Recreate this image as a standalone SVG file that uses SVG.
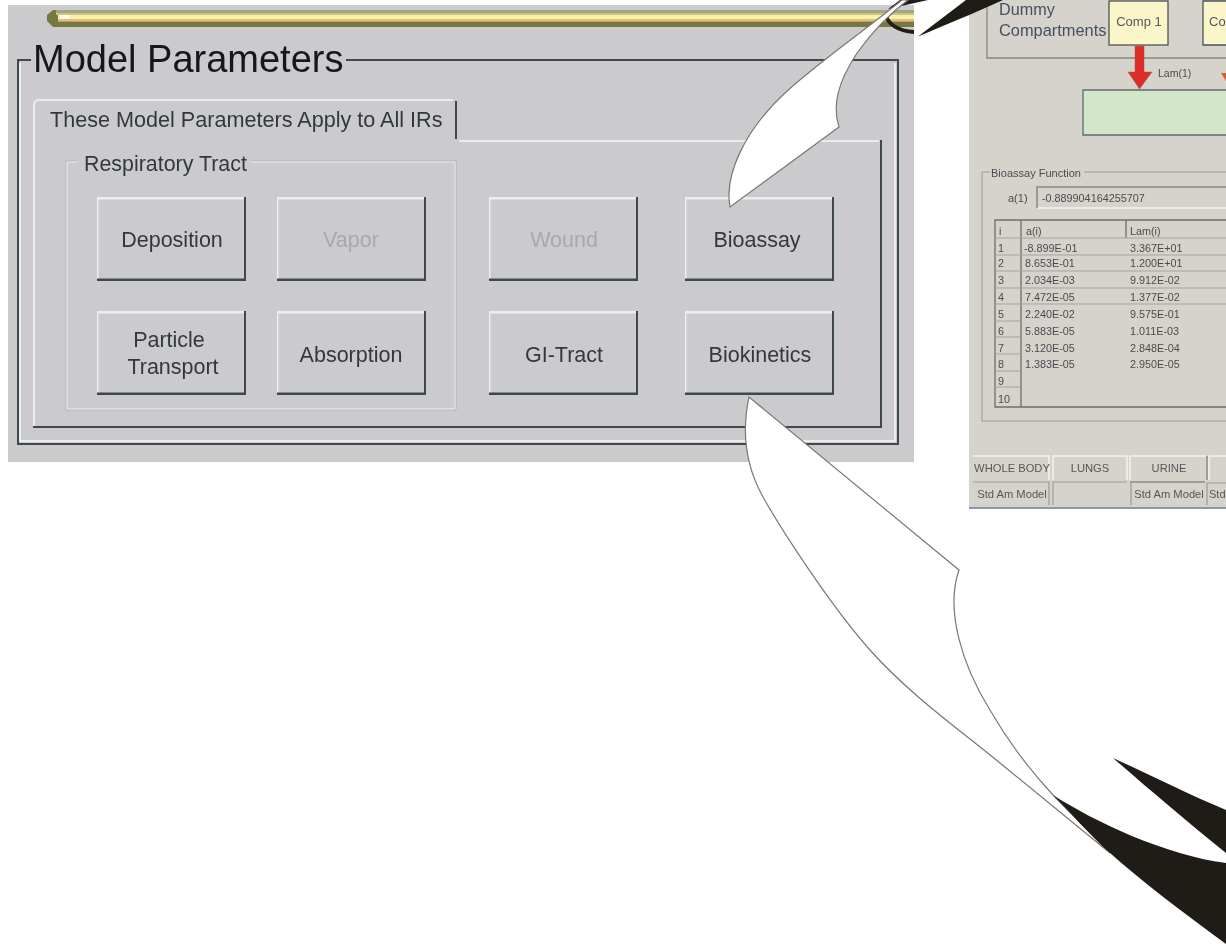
<svg xmlns="http://www.w3.org/2000/svg" width="1226" height="944" viewBox="0 0 1226 944">
<style>
text{font-family:"Liberation Sans",Arial,sans-serif}
.lb{font-size:21.5px;fill:#33393c;text-anchor:middle}
.off{fill:#a9a9ad}
.dk{fill:none;stroke:#3d484b;stroke-width:2}
.lt{fill:none;stroke:#ececee;stroke-width:2}
.hi{fill:none;stroke:#eeeef0;stroke-width:3}
.sd{fill:none;stroke:#3d484b;stroke-width:3}
.s{font-size:10.8px;fill:#4a4c50}
.tl{stroke:#a5a5a2;stroke-width:1;fill:none}
.tb{font-size:11.2px;fill:#55575a;text-anchor:middle}
.wh{fill:#fff;stroke:#777;stroke-width:1.2;stroke-linejoin:miter}
.bk{fill:#1f1b17}
</style>
<defs>
<g id="bevel">
<path class="hi" d="M0 84V1H149"/>
<path class="sd" d="M148.500 0V83H0"/>
</g>
<filter id="soft" x="0" y="0" width="100%" height="100%"><feGaussianBlur stdDeviation="0.45"/></filter>
<filter id="softer" x="0" y="0" width="100%" height="100%"><feGaussianBlur stdDeviation="0.65"/></filter>
</defs>
<rect width="1226" height="944" fill="#fff"/>

<g id="model-parameters-window" filter="url(#soft)">
<rect x="8" y="5" width="906" height="457" fill="#cbcbce"/>
<path d="M53 10H914V27H53L47 21V15Z" fill="#77773f"/>
<path d="M56 10H914V13H56Z" fill="#a5a582"/>
<path d="M56 13H914V15H56Z" fill="#c8c48a"/>
<path d="M58 15H914V19H58Z" fill="#f8f2a2"/>
<path d="M58 19H914V21H58Z" fill="#d6c388"/>
<path d="M58 21H914V22H58Z" fill="#d78f72"/>
<path d="M60 15H70V19H60Z" fill="#fdfbe4"/>
<path class="lt" d="M20 441V63M895 63V441H20"/>
<path class="dk" d="M31 60H18V444H898V60H346"/>
<text x="33" y="72" font-size="38" fill="#15191b">Model Parameters</text>
<path class="lt" d="M34 426V105Q34 100 39 100H453M459 141H879"/>
<path class="dk" d="M456 101V139M881 140V427H33"/>
<text x="50" y="127" font-size="21.6" fill="#33393c">These Model Parameters Apply to All IRs</text>
<path d="M78 161H66V410H456V161H250" fill="none" stroke="#b3b3b6" stroke-width="1"/>
<path d="M78 162H67V409H455V162H250" fill="none" stroke="#ececee" stroke-width="1"/>
<text x="84" y="171" font-size="21.4" fill="#33393c">Respiratory Tract</text>
</g>

<g id="btn-deposition" filter="url(#soft)"><use href="#bevel" transform="translate(97 197)"/><text class="lb" x="172" y="247">Deposition</text></g>
<g id="btn-vapor" filter="url(#soft)"><use href="#bevel" transform="translate(277 197)"/><text class="lb off" x="351" y="247">Vapor</text></g>
<g id="btn-wound" filter="url(#soft)"><use href="#bevel" transform="translate(489 197)"/><text class="lb off" x="564" y="247">Wound</text></g>
<g id="btn-bioassay" filter="url(#soft)"><use href="#bevel" transform="translate(685 197)"/><text class="lb" x="757" y="247">Bioassay</text></g>
<g id="btn-particle-transport" filter="url(#soft)"><use href="#bevel" transform="translate(97 311)"/><text class="lb" x="169" y="347">Particle</text><text class="lb" x="173" y="374">Transport</text></g>
<g id="btn-absorption" filter="url(#soft)"><use href="#bevel" transform="translate(277 311)"/><text class="lb" x="351" y="362">Absorption</text></g>
<g id="btn-gi-tract" filter="url(#soft)"><use href="#bevel" transform="translate(489 311)"/><text class="lb" x="564" y="362">GI-Tract</text></g>
<g id="btn-biokinetics" filter="url(#soft)"><use href="#bevel" transform="translate(685 311)"/><text class="lb" x="760" y="362">Biokinetics</text></g>

<g id="biokinetics-window" filter="url(#softer)">
<rect x="969" y="0" width="257" height="509" fill="#d6d2cc"/>
<path d="M969 508H1226" stroke="#8a97a5" stroke-width="2"/>
<path d="M987 0V58H1226" fill="none" stroke="#85858a" stroke-width="1.3"/>
<text x="999" y="15" font-size="16.2" fill="#46505f">Dummy</text>
<text x="999" y="36" font-size="16.4" fill="#46505f">Compartments</text>
<rect x="1109" y="1" width="59" height="44" fill="#fbf6c9" stroke="#4b5358" stroke-width="1.3"/>
<text x="1139" y="26" font-size="13" fill="#55575a" text-anchor="middle">Comp 1</text>
<path d="M1226 1H1203V45H1226" fill="#fbf6c9" stroke="#4b5358" stroke-width="1.3"/>
<text x="1209" y="26" font-size="13" fill="#55575a">Co</text>
<rect x="1083" y="90" width="143" height="45" fill="#d2e6c8"/>
<path d="M1226 90H1083V135H1226" fill="none" stroke="#5f6a6a" stroke-width="1.3"/>
<text x="1158" y="77" font-size="10.500" fill="#4a4c50">Lam(1)</text>
<path d="M1135 46H1144V72H1152L1139.500 89L1128 72H1135Z" fill="#dc2e28" stroke="#a85a48" stroke-width=".5"/>
<path d="M1221 73H1226V81Z" fill="#dc5a30"/>

<path d="M990 172H982V421H1226M1084 172H1226" fill="none" stroke="#9a9a9a" stroke-width="1"/>
<text x="991" y="177" font-size="11" fill="#4a4c50">Bioassay Function</text>
<text x="1008" y="202" font-size="11" fill="#4a4c50">a(1)</text>
<path d="M1037 208V187H1226" fill="none" stroke="#888" stroke-width="1.500"/>
<path d="M1038 208H1226" stroke="#f4f2ee" stroke-width="1.500"/>
<text x="1042" y="202" class="s" font-size="11">-0.889904164255707</text>

<g id="bioassay-table">
<path d="M1226 220H995V407H1226" fill="none" stroke="#6d6d6d" stroke-width="1.300"/>
<path d="M1021 220V407M1126 220V238" fill="none" stroke="#6d6d6d" stroke-width="1.300"/>
<path class="tl" d="M995 238H1226M995 255H1226M995 271H1226M995 288H1226M995 304H1226M995 321H1021M995 337H1021M995 354H1021M995 371H1021M995 387H1021"/>
<text class="s" x="999" y="235">i</text><text class="s" x="1026" y="235">a(i)</text><text class="s" x="1130" y="235">Lam(i)</text>
<text class="s" x="998" y="252">1</text><text class="s" x="1024" y="252">-8.899E-01</text><text class="s" x="1130" y="252">3.367E+01</text>
<text class="s" x="998" y="267">2</text><text class="s" x="1025" y="267">8.653E-01</text><text class="s" x="1130" y="267">1.200E+01</text>
<text class="s" x="998" y="284">3</text><text class="s" x="1025" y="284">2.034E-03</text><text class="s" x="1130" y="284">9.912E-02</text>
<text class="s" x="998" y="301">4</text><text class="s" x="1025" y="301">7.472E-05</text><text class="s" x="1130" y="301">1.377E-02</text>
<text class="s" x="998" y="318">5</text><text class="s" x="1025" y="318">2.240E-02</text><text class="s" x="1130" y="318">9.575E-01</text>
<text class="s" x="998" y="335">6</text><text class="s" x="1025" y="335">5.883E-05</text><text class="s" x="1130" y="335">1.011E-03</text>
<text class="s" x="998" y="352">7</text><text class="s" x="1025" y="352">3.120E-05</text><text class="s" x="1130" y="352">2.848E-04</text>
<text class="s" x="998" y="368">8</text><text class="s" x="1025" y="368">1.383E-05</text><text class="s" x="1130" y="368">2.950E-05</text>
<text class="s" x="998" y="385">9</text>
<text class="s" x="998" y="403">10</text>
</g>

<g id="model-tabs">
<path d="M973 456H1049V480" fill="none" stroke="#f4f2ee" stroke-width="1.500"/>
<path d="M1053 480V456H1127V480M1130 480V456H1206" fill="none" stroke="#f4f2ee" stroke-width="1.500"/>
<path d="M1207 456V480M1130 482H1205" fill="none" stroke="#8b8b88" stroke-width="1.500"/>
<path d="M1209 480V456H1226" fill="none" stroke="#f4f2ee" stroke-width="1.500"/>
<path d="M973 482H1049V505M1053 505V482H1127M1131 505V483M1207 505V483H1226" fill="none" stroke="#9c9c98" stroke-width="1.200"/>
<text class="tb" x="1012" y="472">WHOLE BODY</text>
<text class="tb" x="1090" y="472">LUNGS</text>
<text class="tb" x="1169" y="472">URINE</text>
<text class="tb" x="1012" y="498">Std Am Model</text>
<text class="tb" x="1169" y="498">Std Am Model</text>
<text x="1209" y="498" font-size="11" fill="#55575a">Std</text>
</g>
</g>

<g id="connectors">
<path d="M885 14C888 24 898 31 914 32" fill="none" stroke="#1f1f1a" stroke-width="4"/>
<path class="bk" d="M888 9L900 0H928Z"/>
<path class="bk" d="M918 36.500L966 0H1003C975 13 945 25 918 36.500Z"/>
<path class="wh" d="M730 207C724 175 745 130 785 93C815 65 860 34 902 0H908C885 17 870 35 857 53C838 82 832 105 839 127Z"/>
<path class="wh" d="M749 397C742 430 745 465 763 497C781 529 830 605 870 650C910 695 960 730 1000 763L1110 853L1053 795C1030 770 1010 745 990 710C962 665 945 610 959 570Z"/>
<path class="bk" d="M1053 795C1095 822 1165 855 1226 863V944C1180 910 1140 880 1110 853C1090 835 1070 812 1053 795Z"/>
<path class="bk" d="M1113 758C1150 775 1190 795 1226 810V853C1185 820 1150 790 1113 758Z"/>
</g>
</svg>
